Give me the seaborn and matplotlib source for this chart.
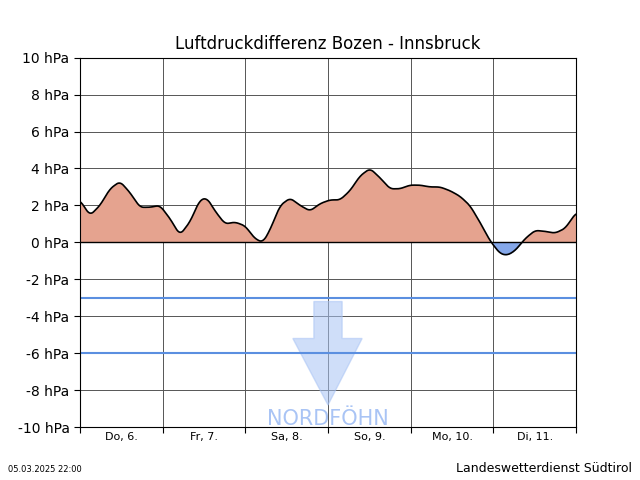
import numpy as np
import matplotlib
matplotlib.use("Agg")
import matplotlib.pyplot as plt
import seaborn as sns
from matplotlib.patches import Polygon

# hours since Do, 6. 00:00 and pressure difference in hPa
hours = [0, 2.9, 5.8, 8.7, 11.6, 14.5, 17.4, 20.3, 23.2, 26.1, 29.0, 31.9, 34.8, 36.9,
         39.2, 42.1, 45.0, 47.9, 50.8, 53.1, 55.1, 58.1, 61.0, 63.9, 66.8, 69.7, 72.6,
         75.5, 78.4, 81.3, 84.2, 87.1, 90.0, 92.9, 95.8, 98.7, 101.6, 104.5, 107.4,
         110.3, 113.2, 116.1, 119.0, 121.9, 124.0, 126.3, 129.2, 132.1, 135.0, 137.9,
         140.8, 144.0]
diff_hpa = [2.28, 1.46, 2.0, 2.9, 3.3, 2.7, 1.9, 1.9, 2.0, 1.3, 0.4, 1.1, 2.3, 2.4,
            1.7, 1.0, 1.1, 0.9, 0.2, 0.0, 0.65, 2.0, 2.4, 2.0, 1.7, 2.1, 2.3,
            2.3, 2.8, 3.6, 4.0, 3.5, 2.9, 2.9, 3.1, 3.1, 3.0, 3.0, 2.8,
            2.5, 2.0, 1.1, 0.1, -0.6, -0.7, -0.45, 0.2, 0.65, 0.6, 0.5,
            0.75, 1.6]
day_labels = ["Do, 6.", "Fr, 7.", "Sa, 8.", "So, 9.", "Mo, 10.", "Di, 11."]
y_ticks = list(range(-10, 11, 2))
foehn_lines = [-3, -6]

# smooth the curve for drawing
t = np.linspace(0, 144, 1000)
h = np.array(hours)
d = np.array(diff_hpa)
v = np.interp(t, h, d)
kernel = np.ones(15) / 15
v = np.convolve(np.pad(v, 7, mode="edge"), kernel, mode="valid")

sns.set_style("white", {"text.color": "black", "xtick.color": "black",
                        "ytick.color": "black", "axes.labelcolor": "black"})
fig, ax = plt.subplots(figsize=(6.4, 4.8), dpi=100)
ax.fill_between(t, 0, v, where=v >= 0, interpolate=True, color="#e5a38f", lw=0)
ax.fill_between(t, 0, v, where=v <= 0, interpolate=True, color="#85a8ea", lw=0)
sns.lineplot(x=t, y=v, ax=ax, color="black", lw=1.2)
ax.axhline(0, color="black", lw=1)
for y in foehn_lines:
    ax.axhline(y, color="#5b8fe0", lw=1.5)

arrow = Polygon([(67.9, -3.2), (76.1, -3.2), (76.1, -5.2), (81.9, -5.2), (72, -8.8),
                 (61.8, -5.2), (67.9, -5.2)], closed=True,
                facecolor="#a9c4f5", edgecolor="#a9c4f5", alpha=0.55)
ax.add_patch(arrow)
ax.text(72, -9.55, "NORDFÖHN", color="#a9c4f5", fontsize=15, ha="center", va="center")

ax.set_xlim(0, 144)
ax.set_ylim(-10, 10)
ax.set_yticks(y_ticks)
ax.set_yticklabels([f"{y} hPa" for y in y_ticks], fontsize=10)
ax.set_xticks(range(0, 145, 24))
ax.set_xticklabels([])
ax.set_xticks([12 + 24 * i for i in range(len(day_labels))], minor=True)
ax.set_xticklabels(day_labels, minor=True, fontsize=8)
ax.tick_params(axis="x", which="minor", length=0)
ax.tick_params(axis="both", which="major", length=4, left=True, bottom=True)
ax.grid(True, which="major", color="#555555", lw=0.7)
for s in ax.spines.values():
    s.set_color("black")
ax.set_title("Luftdruckdifferenz Bozen - Innsbruck", fontsize=12, color="black")

fig.text(0.012, 0.017, "05.03.2025 22:00", fontsize=6)
fig.text(0.712, 0.017, "Landeswetterdienst Südtirol", fontsize=9)
fig.savefig("out.png", dpi=100)
